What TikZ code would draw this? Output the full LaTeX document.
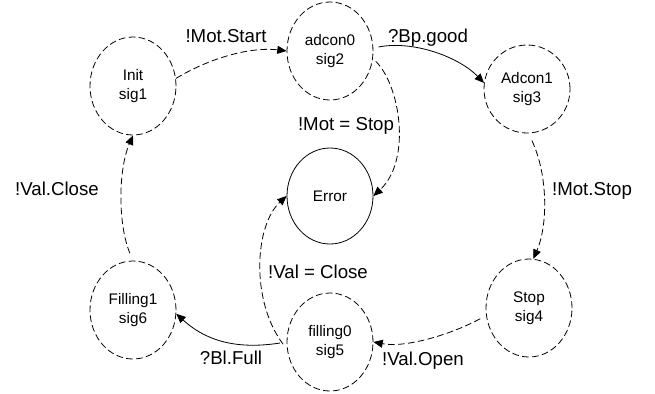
\documentclass[tikz,border=0pt]{standalone}
\usepackage{fontspec}
\setmainfont{Liberation Sans}
\usetikzlibrary{shapes.geometric,arrows.meta}
\begin{document}
\begin{tikzpicture}[x=0.75pt,y=-0.75pt,
  statebox/.style={ellipse,draw,dash pattern=on 5pt off 2.5pt,line width=0.6pt,
    minimum width=64.5pt,minimum height=73.5pt,inner sep=0pt,align=center,
    font=\fontsize{11.5}{14}\selectfont},
  errbox/.style={ellipse,draw,line width=0.6pt,
    minimum width=64.5pt,minimum height=72pt,inner sep=0pt,align=center,
    font=\fontsize{11.5}{14}\selectfont},
  lbl/.style={anchor=base,inner sep=0pt,font=\fontsize{14}{16}\selectfont},
  dconn/.style={draw,line width=0.6pt,dash pattern=on 5pt off 2.5pt,
    -{Triangle[length=7pt,width=6pt]}},
  sconn/.style={draw,line width=0.6pt,-{Triangle[length=7pt,width=6pt]}}]
\useasboundingbox (0,0) rectangle (655,393);
% states
\node[statebox] (init) at (133,86) {Init\\sig1};
\node[statebox] (ad0) at (330,51) {adcon0\\sig2};
\node[statebox,minimum height=66pt] (ad1) at (527,89) {Adcon1\\sig3};
\node[statebox] (stop) at (529,308) {Stop\\sig4};
\node[statebox] (fil0) at (330,342) {filling0\\sig5};
\node[statebox] (fil1) at (133,310) {Filling1\\sig6};
\node[errbox] (err) at (330,196) {Error};
% connectors
\path[dconn] (init.10) .. controls (215,55) and (255,47) .. (ad0.west);
\path[sconn,shorten <=4pt] (ad0.4) .. controls (415,40) and (460,58) .. (ad1.172);
\path[dconn,shorten <=3pt] (ad0.-10) .. controls (400,85) and (412,160) .. (err.east);
\path[dconn,shorten <=6pt] (ad1.-88) .. controls (548,175) and (548,225) .. (stop.85);
\path[dconn,shorten <=5pt] (stop.190) .. controls (450,335) and (405,348) .. (fil0.east);
\path[sconn,shorten <=5pt] (fil0.west) .. controls (235,350) and (205,340) .. (fil1.-5);
\path[dconn,shorten <=5pt] (fil0.190) .. controls (250,300) and (255,225) .. (err.west);
\path[dconn,shorten <=6pt] (fil1.north) .. controls (118,225) and (118,170) .. (init.south);
% labels
\node[lbl] (l1) at (226,42) {!Mot.Start};
\node[lbl] (l2) at (428,42) {?Bp.good};
\node[lbl] (l3) at (346,130) {!Mot = Stop};
\node[lbl] (l4) at (592,195) {!Mot.Stop};
\node[lbl] (l5) at (57,195) {!Val.Close};
\node[lbl] (l6) at (318,278) {!Val = Close};
\node[lbl] (l7) at (231,364) {?Bl.Full};
\node[lbl] (l8) at (423,365) {!Val.Open};
\end{tikzpicture}
\end{document}
